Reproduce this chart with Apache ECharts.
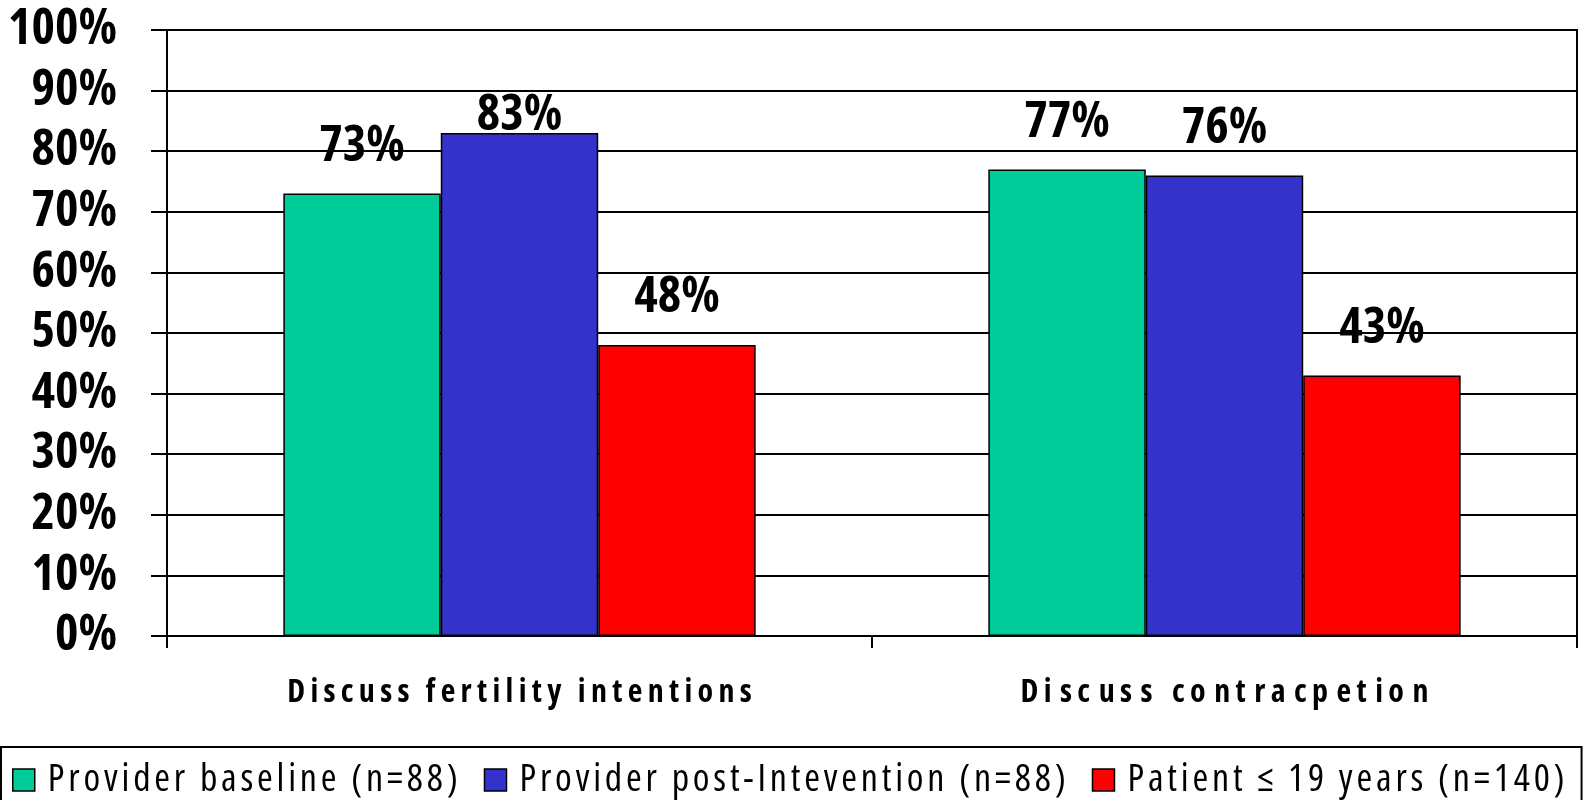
<!DOCTYPE html>
<html>
<head>
<meta charset="utf-8">
<script src="https://cdn.jsdelivr.net/npm/echarts@6/dist/echarts.min.js"></script>
<style>
  html, body { margin: 0; padding: 0; background: #fff; }
  #chart { width: 1585px; height: 800px; }
</style>
</head>
<body>
<div id="chart"></div>
<script>
// data
const categories = ['Discuss fertility intentions', 'Discuss contracpetion']
const seriesNames = ['Provider baseline (n=88)', 'Provider post-Intevention (n=88)', 'Patient ≤ 19 years (n=140)']
const providerBaseline = [73, 77]
const providerPost = [83, 76]
const patients = [48, 43]
const yMin = 0
const yMax = 100
const yStep = 10

const colors = ['#00CC99', '#3333CC', '#FF0000']
const FONT = '"Open Sans"'
const NARROW = 'condensed' // goes into the canvas font string as font-stretch
// the original text is letter-spaced, so put a thin gap between characters
const spaced = (s, gap) => String(s).split('').join(gap || '\u200A')

const chart = echarts.init(document.getElementById('chart'))

const barLabel = {
  show: true,
  position: 'top',
  distance: 22,
  color: '#000',
  fontFamily: FONT,
  fontStyle: NARROW,
  fontWeight: 'bold',
  fontSize: 50,
  formatter: p => p.value + '%'
}

const makeSeries = (name, values, color) => ({
  name: name,
  type: 'bar',
  data: values.map(v => {
    // label of the tallest bar sits right on the bar in the original
    if (v >= 80) return { value: v, label: { distance: -8 } }
    return v
  }),
  barGap: '0%',
  barCategoryGap: '33%',
  itemStyle: {
    color: color,
    borderColor: '#000',
    borderWidth: 1.5
  },
  label: barLabel
})

const option = {
  animation: false,
  backgroundColor: '#fff',
  grid: {
    left: 167,
    right: 8,
    top: 30,
    bottom: 164,
    outerBoundsMode: 'none',
    containLabel: false,
    show: true,
    borderColor: '#000',
    borderWidth: 2
  },
  legend: {
    left: 1,
    top: 747,
    icon: 'rect',
    itemWidth: 22,
    itemHeight: 22,
    itemGap: 26,
    padding: [14, 17, 24, 11],
    borderColor: '#000',
    borderWidth: 2,
    itemStyle: { borderColor: '#000', borderWidth: 1.5 },
    textStyle: {
      color: '#000',
      fontFamily: FONT,
      fontStyle: NARROW,
      fontSize: 38,
      padding: [0, 0, 0, 8]
    },
    formatter: name => spaced(name),
    data: seriesNames
  },
  xAxis: {
    type: 'category',
    data: categories,
    axisLine: { lineStyle: { color: '#000', width: 2 } },
    axisTick: { show: true, length: 12, alignWithLabel: false, lineStyle: { color: '#000', width: 2 } },
    axisLabel: {
      interval: 0,
      margin: 41,
      color: '#000',
      fontFamily: FONT,
      fontStyle: NARROW,
      fontWeight: 'bold',
      fontSize: 32,
      // second label is spread a little wider in the original
      formatter: (v, i) => v.split('').map((c, k) => (i === 1 && k % 2) ? c + '\u200A' : c).join('\u2009')
    }
  },
  yAxis: {
    type: 'value',
    min: yMin,
    max: yMax,
    interval: yStep,
    axisLine: { show: true, lineStyle: { color: '#000', width: 2 } },
    axisTick: { show: true, length: 16, lineStyle: { color: '#000', width: 2 } },
    splitLine: { lineStyle: { color: '#000', width: 2 } },
    axisLabel: {
      margin: 50,
      color: '#000',
      fontFamily: FONT,
      fontStyle: NARROW,
      fontWeight: 'bold',
      fontSize: 50,
      formatter: v => v + '%'
    }
  },
  series: [
    makeSeries(seriesNames[0], providerBaseline, colors[0]),
    makeSeries(seriesNames[1], providerPost, colors[1]),
    makeSeries(seriesNames[2], patients, colors[2])
  ]
}

chart.setOption(option)
</script>
</body>
</html>
